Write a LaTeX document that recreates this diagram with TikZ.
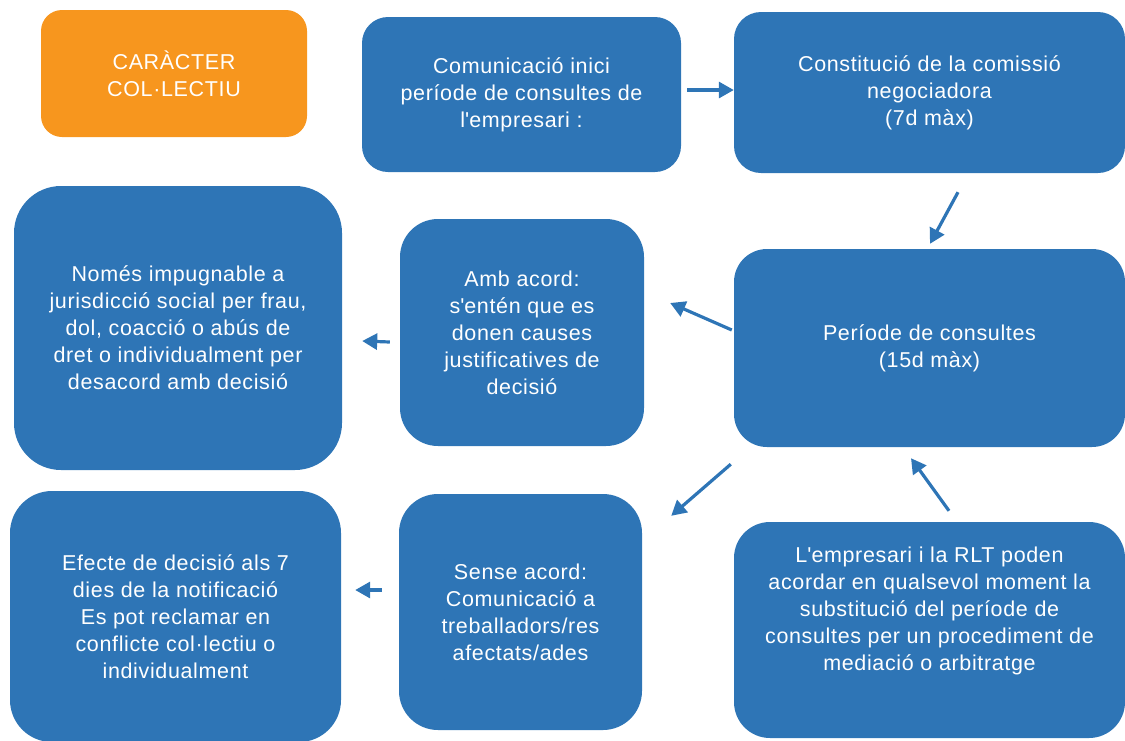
\documentclass[tikz,border=0pt]{standalone}
\usepackage{fontspec}
\setmainfont{Liberation Sans}[LetterSpace=3.0]
\usetikzlibrary{arrows.meta}
\definecolor{boxblue}{HTML}{2E75B6}
\definecolor{boxorange}{HTML}{F7961E}
\tikzset{x=1pt, y=-1pt, % one unit per pixel, y going down
>={Triangle[length=15pt,width=16pt]}, % filled triangle heads
box/.style={fill=boxblue, rounded corners=#1, text=white, align=center, inner sep=0pt,
  font=\fontsize{21.5}{27}\selectfont}, % the rounded boxes, #1 is the corner radius
box/.default=30pt,
link/.style={->, draw=boxblue, line width=3.2pt}, % the short arrows between boxes
}

\begin{document}
\begin{tikzpicture}
  \useasboundingbox (0,0) rectangle (1125,740);

  \node[box=21pt, fill=boxorange, minimum width=266pt, minimum height=127pt] (kind) at (174,73.5) {CARÀCTER\\COL·LECTIU};
  \node[box=26pt, minimum width=319pt, minimum height=155pt] (comm) at (521.5,94.5) {Comunicació inici\\període de consultes de\\l\textquotesingle empresari :};
  \node[box=27pt, minimum width=391pt, minimum height=161pt] (const) at (929.5,92.5) {Constitució de la comissió\\negociadora\\ (7d màx)};
  \node[box=33pt, minimum width=391pt, minimum height=198pt] (peri) at (929.5,348) {Període de consultes\\ (15d màx)};
  \node[box=38pt, minimum width=244pt, minimum height=227pt] (amb) at (522,332.5) {Amb acord:\\s\textquotesingle entén que es\\donen causes\\justificatives de\\decisió};
  \node[box=47pt, minimum width=328pt, minimum height=284pt] (nom) at (178,328) {Només impugnable a\\jurisdicció social per frau,\\dol, coacció o abús de\\dret o individualment per\\desacord amb decisió};
  \node[box=39pt, minimum width=243pt, minimum height=236pt] (sense) at (520.5,612) {Sense acord:\\Comunicació a\\treballadors/res\\afectats/ades};
  \node[box=42pt, minimum width=331pt, minimum height=251pt] (efec) at (175.5,616.5) {Efecte de decisió als 7\\dies de la notificació\\Es pot reclamar en\\conflicte col·lectiu o\\individualment};
  \node[box=36pt, minimum width=391pt, minimum height=216pt] (rlt) at (929.5,630) {};
  \node[box, fill=none] (rlttext) at (929.5,611) {L\textquotesingle empresari i la RLT poden\\acordar en qualsevol moment la\\substitució del període de\\consultes per un procediment de\\mediació o arbitratge};

  \draw[link] ([xshift=6pt,yshift=4.5pt]comm.east) -- ([yshift=2.5pt]const.west);
  \draw[link] ([xshift=28.5pt,yshift=-19pt]const.south) -- ([xshift=0.5pt,yshift=5pt]peri.north);
  \draw[link] ([xshift=-2pt,yshift=18pt]peri.west) -- ([xshift=26pt,yshift=29.5pt]amb.east);
  \draw[link] ([xshift=-10pt,yshift=-9.5pt]amb.west) -- ([xshift=20pt,yshift=-13pt]nom.east);
  \draw[link] ([xshift=-3pt,yshift=-17pt]peri.south west) -- ([xshift=29pt,yshift=-22pt]sense.north east);
  \draw[link] ([xshift=-17pt,yshift=22pt]sense.west) -- ([xshift=14pt,yshift=26.5pt]efec.east);
  \draw[link] ([xshift=19.5pt,yshift=11pt]rlt.north) -- ([xshift=-18.5pt,yshift=-11pt]peri.south);

\end{tikzpicture}
\end{document}
